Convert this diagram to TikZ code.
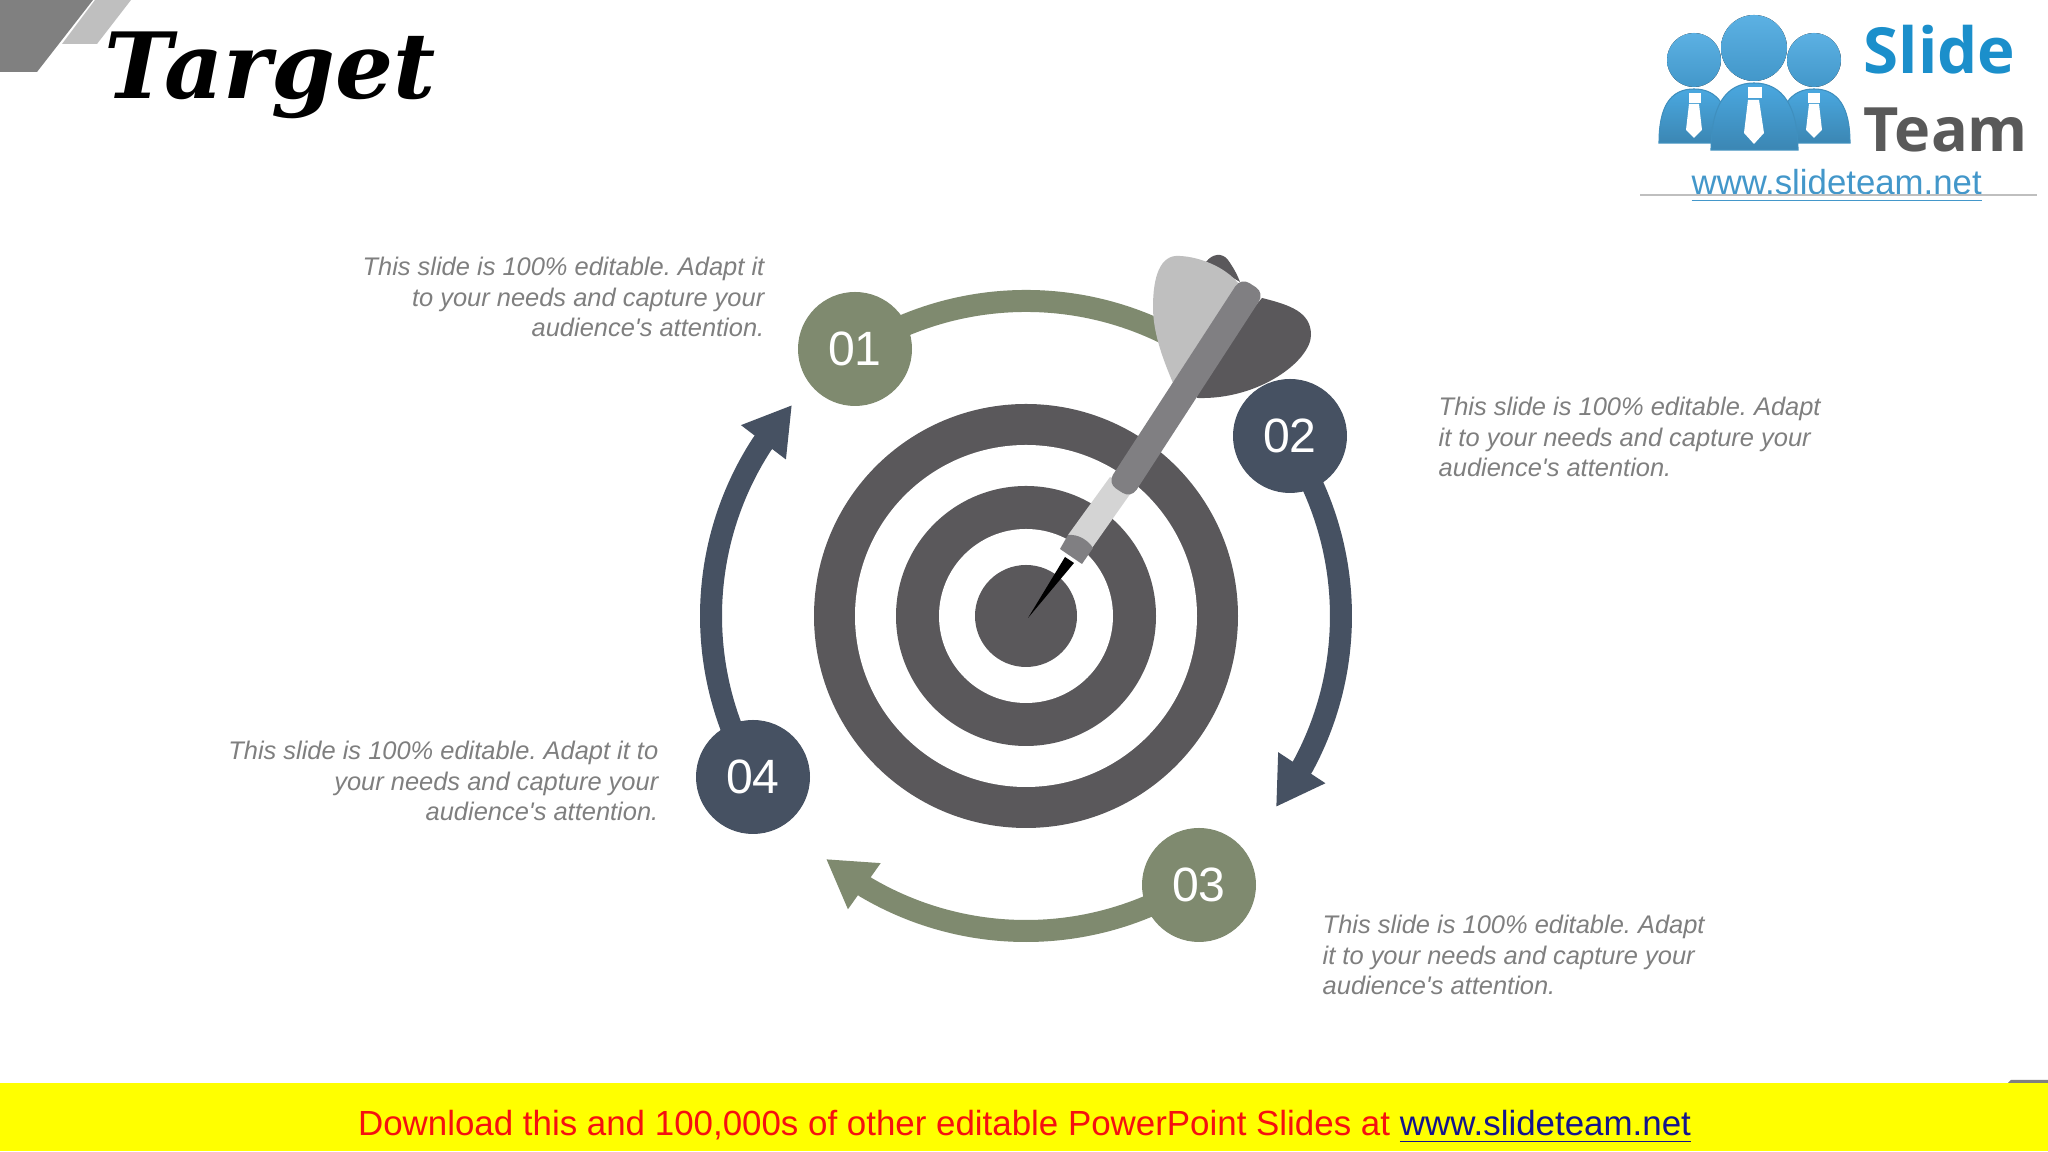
\documentclass[tikz,border=0pt]{standalone}
\usepackage{fontspec}
\setmainfont{Liberation Sans}
\newfontfamily\titlefont{DejaVu Serif}
\newfontfamily\logofont{Open Sans}
\usetikzlibrary{arrows.meta, backgrounds, positioning}
\frenchspacing
\definecolor{ringgray}{HTML}{5A585B}
\definecolor{shaftgray}{HTML}{807F82}
\definecolor{oliveg}{HTML}{7F8A6F}
\definecolor{navyb}{HTML}{465162}
\definecolor{notegray}{HTML}{7F7F7F}
\definecolor{logoblue}{HTML}{4AA8E0}
\definecolor{slideblue}{HTML}{1B8FCB}
\definecolor{baryellow}{HTML}{FFFF00}
\definecolor{barred}{HTML}{F51010}
\definecolor{barblue}{HTML}{14148C}
\tikzstyle{numgreen} = [circle, minimum size=1.14cm, inner sep=0pt, fill=oliveg, text=white, font=\fontsize{13.7}{16}\selectfont]
\tikzstyle{numblue} = [circle, minimum size=1.14cm, inner sep=0pt, fill=navyb, text=white, font=\fontsize{13.7}{16}\selectfont]
\tikzstyle{note} = [inner sep=0pt, text=notegray, font=\fontsize{7.24}{8.76}\selectfont\itshape]
\tikzstyle{arrowg} = [-{Triangle[length=0.47cm,width=0.53cm]}, line width=0.22cm, draw=oliveg]
\tikzstyle{arrowb} = [-{Triangle[length=0.47cm,width=0.53cm]}, line width=0.22cm, draw=navyb]
\tikzstyle{logobody} = [top color=logoblue, bottom color=logoblue!80!black, draw=logoblue!85!black, line width=0.3pt]
\begin{document}
\begin{tikzpicture}
  \useasboundingbox (0,0) rectangle (20.48,11.52);

  \fill[gray!100] (0,11.52) -- (0.93,11.52) -- (0.37,10.80) -- (0,10.80) -- cycle;
  \fill[black!25] (0.95,11.52) -- (1.31,11.52) -- (0.97,11.08) -- (0.62,11.08) -- cycle;
  \node[anchor=base west, inner sep=0pt, font=\titlefont\bfseries\itshape\fontsize{26}{30}\selectfont] (title) at (1.04,10.53) {Target};

  \fill[ringgray] (10.26,5.36) circle (2.12);
  \fill[white] (10.26,5.36) circle (1.71);
  \fill[ringgray] (10.26,5.36) circle (1.30);
  \fill[white] (10.26,5.36) circle (0.87);
  \fill[ringgray] (10.26,5.36) circle (0.51);

  \node[numgreen] (num01) at (8.55,8.03) {01};
  \node[numblue] (num02) at (12.90,7.16) {02};
  \node[numgreen] (num03) at (11.99,2.67) {03};
  \node[numblue] (num04) at (7.53,3.75) {04};
  \coordinate (tip02) at (12.76,3.45);
  \coordinate (tip03) at (8.26,2.93);
  \coordinate (tip04) at (7.92,7.47);

  \begin{pgfonlayer}{background}
    \fill[white] (0,0) rectangle (20.48,11.52);
    \draw[line width=0.22cm, draw=oliveg] ([xshift=0.013cm,yshift=-0.016cm]num01.center) arc[start angle=122.6, end angle=62, radius=3.15];
    \draw[arrowb] ([xshift=-0.038cm,yshift=-0.025cm]num02.center) arc[start angle=34.3, end angle=-28.4, radius=3.15] -- (tip02);
    \draw[arrowg] ([xshift=-0.029cm,yshift=0.039cm]num03.center) arc[start angle=-57.3, end angle=-120.5, radius=3.15] -- (tip03);
    \draw[arrowb] ([xshift=0.016cm,yshift=0.011cm]num04.center) arc[start angle=210.5, end angle=147, radius=3.15] -- (tip04);
  \end{pgfonlayer}

  \fill[ringgray] (12.06,8.90) .. controls (12.12,8.98) and (12.22,9.00) .. (12.28,8.92) .. controls (12.33,8.85) and (12.37,8.78) .. (12.40,8.70) -- cycle;
  \fill[black!25] (11.73,7.69) .. controls (11.62,7.95) and (11.53,8.20) .. (11.53,8.45) .. controls (11.53,8.75) and (11.60,8.98) .. (11.80,8.96) .. controls (12.00,8.95) and (12.25,8.85) .. (12.38,8.69) -- cycle;
  \fill[ringgray] (12.00,7.80) -- (12.62,8.54) .. controls (12.90,8.47) and (13.11,8.40) .. (13.11,8.17) .. controls (13.11,7.92) and (12.60,7.52) .. (11.97,7.54) -- cycle;
  \fill[black] (10.28,5.34) -- (10.65,5.95) -- (10.74,5.89) -- cycle;
  \fill[black!17] (10.68,6.17) -- (11.10,6.75) -- (11.33,6.62) -- (10.92,6.04) -- cycle;
  \fill[shaftgray] (10.60,6.03) -- (10.82,5.88) -- (10.93,6.04) .. controls (10.88,6.12) and (10.78,6.18) .. (10.68,6.17) -- cycle;
  \node[rotate=57, minimum width=2.45cm, minimum height=0.28cm, inner sep=0pt, rounded corners=0.1cm, fill=shaftgray] (shaft) at (11.86,7.64) {};

  \node[note, anchor=east, align=right] (note1) at (7.65,8.55) {This slide is 100\% editable. Adapt it\\to your needs and capture your\\audience\textquotesingle s attention.};
  \node[note, anchor=west, align=left] (note2) at (14.38,7.15) {This slide is 100\% editable. Adapt\\it to your needs and capture your\\audience\textquotesingle s attention.};
  \node[note, anchor=west, align=left] (note3) at (13.22,1.97) {This slide is 100\% editable. Adapt\\it to your needs and capture your\\audience\textquotesingle s attention.};
  \node[note, anchor=east, align=right] (note4) at (6.59,3.71) {This slide is 100\% editable. Adapt it to\\your needs and capture your\\audience\textquotesingle s attention.};

  \fill[logobody] (16.59,10.09) .. controls (16.59,10.45) and (16.70,10.63) .. (16.94,10.63) .. controls (17.18,10.63) and (17.30,10.45) .. (17.30,10.09) -- cycle;
  \fill[logobody] (17.78,10.09) .. controls (17.78,10.45) and (17.90,10.63) .. (18.14,10.63) .. controls (18.38,10.63) and (18.50,10.45) .. (18.50,10.09) -- cycle;
  \path[logobody] (17.11,10.02) .. controls (17.11,10.45) and (17.25,10.69) .. (17.54,10.69) .. controls (17.83,10.69) and (17.98,10.45) .. (17.98,10.02) -- cycle;
  \fill[top color=logoblue!90!white, bottom color=logoblue!90!black] (16.94,10.92) circle (0.27);
  \fill[top color=logoblue!90!white, bottom color=logoblue!90!black] (17.54,11.04) circle (0.33);
  \fill[top color=logoblue!90!white, bottom color=logoblue!90!black] (18.14,10.92) circle (0.27);
  \fill[white] (16.89,10.49) rectangle (17.01,10.59);
  \fill[white] (16.89,10.48) -- (16.86,10.22) -- (16.94,10.14) -- (17.02,10.22) -- (16.99,10.48) -- cycle;
  \fill[white] (17.48,10.54) rectangle (17.62,10.65);
  \fill[white] (17.48,10.52) -- (17.44,10.19) -- (17.54,10.08) -- (17.64,10.19) -- (17.59,10.52) -- cycle;
  \fill[white] (18.08,10.49) rectangle (18.20,10.59);
  \fill[white] (18.09,10.48) -- (18.06,10.22) -- (18.14,10.14) -- (18.22,10.22) -- (18.19,10.48) -- cycle;
  \node[anchor=base west, inner sep=0pt, text=slideblue, font=\logofont\bfseries\fontsize{18.1}{22}\selectfont] (slide) at (18.63,10.78) {Slide};
  \node[anchor=base west, inner sep=0pt, text=black!65, font=\logofont\bfseries\fontsize{17.4}{22}\selectfont] (team) at (18.63,10.00) {Team};
  \node[anchor=base west, inner sep=0pt, text=logoblue!90!black, font=\fontsize{9.9}{11}\selectfont] (site) at (16.91,9.57) {\underline{www.slideteam.net}};
  \draw[black!25, line width=0.3pt] (16.40,9.57) -- (20.37,9.57);

  \fill[baryellow] (0,0.01) rectangle (20.48,0.69);
  \fill[gray] (20.08,0.69) -- (20.11,0.72) -- (20.48,0.72) -- (20.48,0.69) -- cycle;
  \node[anchor=base, inner sep=0pt, font=\fontsize{9.93}{12}\selectfont] (download) at (10.245,0.16) {\textcolor{barred}{Download this and 100,000s of other editable PowerPoint Slides at} \textcolor{barblue}{\underline{www.slideteam.net}}};
\end{tikzpicture}
\end{document}
